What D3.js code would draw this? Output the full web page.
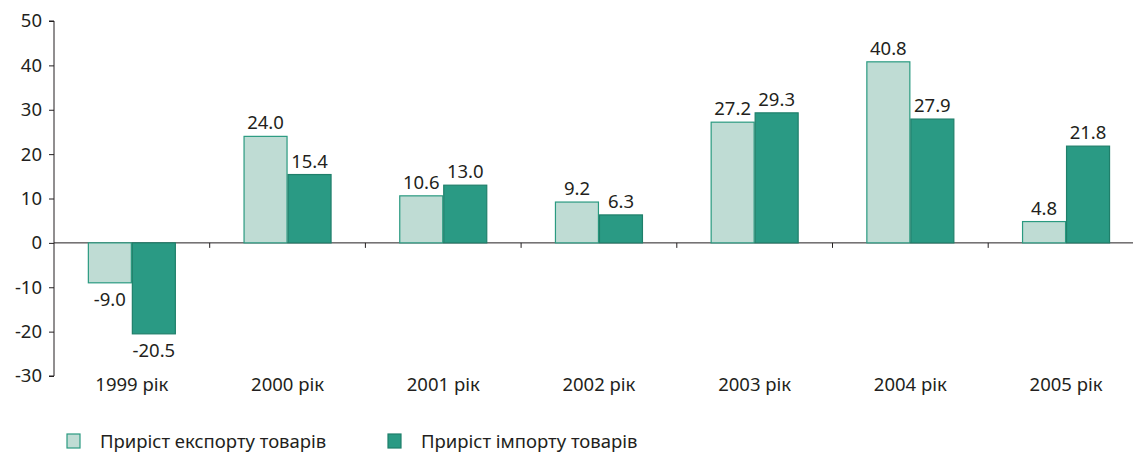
<!DOCTYPE html>
<html>
<head>
<meta charset="utf-8">
<script src="https://cdn.jsdelivr.net/npm/d3@7"></script>
<style>
  body { margin: 0; background: #fff; }
  svg text { font-family: "Noto Sans", sans-serif; fill: #231f20; }
</style>
</head>
<body>
<svg id="chart" width="1133" height="452"></svg>
<script>
const categories = ["1999 рік", "2000 рік", "2001 рік", "2002 рік", "2003 рік", "2004 рік", "2005 рік"];
const exportGrowth = [-9.0, 24.0, 10.6, 9.2, 27.2, 40.8, 4.8];
const importGrowth = [-20.5, 15.4, 13.0, 6.3, 29.3, 27.9, 21.8];
const seriesNames = ["Приріст експорту товарів", "Приріст імпорту товарів"];
const yTicks = [-30, -20, -10, 0, 10, 20, 30, 40, 50];

const colors = [
    {fill: "#bfdcd4", stroke: "#2a9a80"},
    {fill: "#2a9a84", stroke: "#1f7f6a"}
];
const fontSize = "18.5px";

const svg = d3.select("#chart");
const plotLeft = 54, plotTop = 21, plotBottom = 376;

const y = d3.scaleLinear().domain([-30, 50]).range([plotBottom, plotTop]);
const x = d3.scaleBand().domain(categories).range([plotLeft, plotLeft + 7 * 155.7]);
const inner = d3.scaleBand().domain([0, 1]).range([0, 88]);

// y axis
const yAxis = svg.append("g")
    .attr("transform", `translate(${plotLeft},0)`)
    .call(d3.axisLeft(y).tickValues(yTicks).tickSize(5).tickPadding(7).tickFormat(d => String(d)));
yAxis.select(".domain").attr("stroke", "#231f20").attr("d", `M-5,${y(50)}H0V${y(-30)}H-5`);
yAxis.selectAll(".tick line").attr("stroke", "#231f20");
yAxis.selectAll(".tick text").style("font-size", fontSize).attr("fill", "#231f20");

// zero line with category ticks
const xAxis = svg.append("g").attr("transform", `translate(0,${y(0)})`);
xAxis.append("line").attr("x1", plotLeft).attr("x2", 1133).attr("stroke", "#231f20");
xAxis.selectAll(".ctick")
    .data(categories.slice(1))
    .enter().append("line")
    .attr("x1", d => x(d)).attr("x2", d => x(d))
    .attr("y1", 0).attr("y2", 5)
    .attr("stroke", "#231f20");

// category labels
svg.selectAll(".cat")
    .data(categories)
    .enter().append("text")
    .attr("x", d => x(d) + x.bandwidth() / 2)
    .attr("y", 391)
    .attr("text-anchor", "middle")
    .style("font-size", fontSize)
    .text(d => d);

// bars
const rows = categories.map((c, i) => ({cat: c, vals: [exportGrowth[i], importGrowth[i]]}));
const groups = svg.selectAll(".grp")
    .data(rows)
    .enter().append("g")
    .attr("transform", d => `translate(${x(d.cat) + (x.bandwidth() - 88) / 2},0)`);

groups.selectAll("rect")
    .data(d => d.vals.map((v, k) => ({v, k})))
    .enter().append("rect")
    .attr("x", d => inner(d.k) + 0.5)
    .attr("y", d => y(Math.max(0, d.v)))
    .attr("width", inner.bandwidth() - 1)
    .attr("height", d => Math.abs(y(d.v) - y(0)))
    .attr("fill", d => colors[d.k].fill)
    .attr("stroke", d => colors[d.k].stroke)
    .attr("stroke-width", 1.2);

groups.selectAll(".lbl")
    .data(d => d.vals.map((v, k) => ({v, k})))
    .enter().append("text")
    .attr("x", d => inner(d.k) + inner.bandwidth() / 2)
    .attr("y", d => d.v >= 0 ? y(d.v) - 7 : y(d.v) + 23)
    .attr("text-anchor", "middle")
    .style("font-size", fontSize)
    .text(d => d.v.toFixed(1));

// legend
const legendX = [67, 388];
const legend = svg.selectAll(".leg")
    .data(seriesNames)
    .enter().append("g")
    .attr("transform", (d, i) => `translate(${legendX[i]},434)`);
legend.append("rect")
    .attr("width", 13).attr("height", 14)
    .attr("fill", (d, i) => colors[i].fill)
    .attr("stroke", (d, i) => colors[i].stroke)
    .attr("stroke-width", 1.2);
legend.append("text")
    .attr("x", 33).attr("y", 14)
    .style("font-size", fontSize)
    .text(d => d);
</script>
</body>
</html>
